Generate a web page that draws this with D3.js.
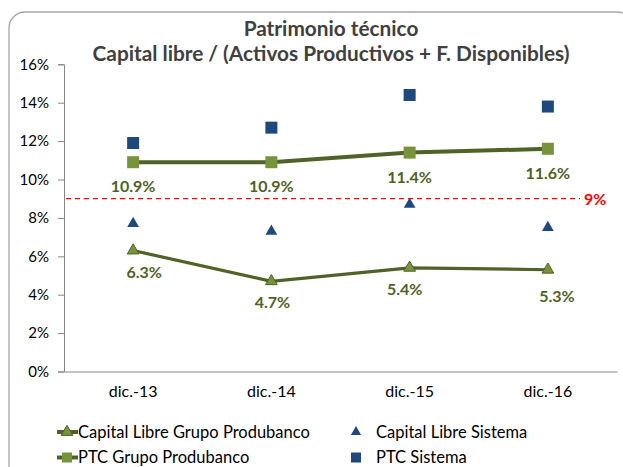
<!DOCTYPE html>
<html><head><meta charset="utf-8">
<script src="https://cdn.jsdelivr.net/npm/d3@7"></script>
<style>
html,body{margin:0;padding:0;background:#fff;}
svg{display:block;font-family:Lato,"Open Sans",sans-serif;}
</style></head>
<body>
<svg id="c" width="623" height="467"></svg>
<script>
const categories = ["dic.-13","dic.-14","dic.-15","dic.-16"];
const capitalLibreGrupo = [0.063, 0.047, 0.054, 0.053];
const capitalLibreSistema = [0.077, 0.073, 0.087, 0.075];
const ptcGrupo = [0.109, 0.109, 0.114, 0.116];
const ptcSistema = [0.119, 0.127, 0.144, 0.138];
const threshold = 0.09;
const thresholdLabel = "9%";
const yTicks = [0,0.02,0.04,0.06,0.08,0.10,0.12,0.14,0.16];
const titleLines = ["Patrimonio técnico","Capital libre / (Activos Productivos + F. Disponibles)"];
const legendLabels = ["Capital Libre Grupo Produbanco","Capital Libre Sistema","PTC Grupo Produbanco","PTC Sistema"];

const svg = d3.select("#c");
const L = 64, R = 617, T = 64.3, B = 371.5;
const olive = "#4f6228", lightOlive = "#77933c", blue = "#1f497d", axisCol = "#868686";

// border
svg.append("rect").attr("x",9).attr("y",12).attr("width",614+10).attr("height",470)
  .attr("rx",16).attr("fill","none").attr("stroke","#a6a6a6").attr("stroke-width",1.3);

const x = d3.scaleBand().domain(categories).range([L,R]);
const y = d3.scaleLinear().domain([0,0.16]).range([B,T]);
const cx = d => x(d) + x.bandwidth()/2;

// title
svg.append("g").selectAll("text").data(titleLines).join("text")
  .attr("x",331).attr("y",(d,i)=>36+i*25).attr("text-anchor","middle")
  .attr("font-weight","bold").attr("font-size",20.8).attr("fill","#404040").text(d=>d);

// y axis
const yAxis = svg.append("g").attr("transform",`translate(${L},0)`)
  .call(d3.axisLeft(y).tickValues(yTicks).tickFormat(d3.format(".0%")).tickSize(6).tickPadding(9));
yAxis.select(".domain").attr("stroke",axisCol);
yAxis.selectAll(".tick line").attr("stroke",axisCol);
yAxis.selectAll("text").attr("font-size",15).attr("fill","#000").attr("font-family","Lato,sans-serif");

// x axis
const xAxis = svg.append("g").attr("transform",`translate(0,${B})`)
  .call(d3.axisBottom(x).tickSize(0).tickPadding(14));
xAxis.select(".domain").attr("stroke",axisCol);
xAxis.selectAll("text").attr("font-size",16).attr("fill","#000").attr("font-family","Lato,sans-serif");

// threshold
svg.append("line").attr("x1",66).attr("x2",580).attr("y1",y(threshold)).attr("y2",y(threshold))
  .attr("stroke","#ff0000").attr("stroke-width",1.2).attr("stroke-dasharray","5,4");
svg.append("text").attr("x",584).attr("y",y(threshold)+6).attr("font-weight","bold")
  .attr("font-size",16).attr("fill","#ff0000").text(thresholdLabel);

const line = d3.line().x((d,i)=>cx(categories[i])).y(d=>y(d));
svg.append("path").datum(ptcGrupo).attr("d",line).attr("fill","none").attr("stroke",olive).attr("stroke-width",4);
svg.append("path").datum(capitalLibreGrupo).attr("d",line).attr("fill","none").attr("stroke",olive).attr("stroke-width",3.2);

const sq = 12, tri = d3.symbol().type(d3.symbolTriangle).size(60);
function squares(data, fill){
  svg.append("g").selectAll("rect").data(data).join("rect")
    .attr("x",(d,i)=>cx(categories[i])-sq/2).attr("y",d=>y(d)-sq/2)
    .attr("width",sq).attr("height",sq).attr("fill",fill);
}
function triangles(data, fill, stroke){
  svg.append("g").selectAll("path").data(data).join("path")
    .attr("d",tri).attr("transform",(d,i)=>`translate(${cx(categories[i])},${y(d)})`)
    .attr("fill",fill).attr("stroke",stroke||"none").attr("stroke-width",1);
}
squares(ptcSistema, blue);
squares(ptcGrupo, lightOlive);
triangles(capitalLibreSistema, blue);
triangles(capitalLibreGrupo, lightOlive, olive);

const fmt = d3.format(".1%");
const ptcOff = [[0,24],[0,24],[0,24],[0,24]];
const clOff = [[11,21],[1,21],[-5,21],[9,26]];
function labels(data, off){
  svg.append("g").selectAll("text").data(data).join("text")
    .attr("x",(d,i)=>cx(categories[i])+off[i][0]).attr("y",(d,i)=>y(d)+off[i][1]+6)
    .attr("text-anchor","middle").attr("font-weight","bold").attr("font-size",16)
    .attr("fill",olive).text(d=>fmt(d));
}
labels(ptcGrupo, ptcOff);
labels(capitalLibreGrupo, clOff);

// legend
const lg = svg.append("g").attr("font-size",16.5).attr("fill","#000");
const rows = [432, 457.5];
function legLine(yy, marker){
  lg.append("line").attr("x1",57).attr("x2",78).attr("y1",yy).attr("y2",yy).attr("stroke",olive).attr("stroke-width",4);
  if(marker==="tri") lg.append("path").attr("d",tri).attr("transform",`translate(67,${yy})`).attr("fill",lightOlive).attr("stroke",olive);
  else lg.append("rect").attr("x",62).attr("y",yy-5).attr("width",10).attr("height",10).attr("fill",lightOlive);
}
legLine(rows[0],"tri");
legLine(rows[1],"sq");
lg.append("path").attr("d",d3.symbol().type(d3.symbolTriangle).size(45)).attr("transform",`translate(356,${rows[0]})`).attr("fill",blue);
lg.append("rect").attr("x",351).attr("y",rows[1]-5).attr("width",10).attr("height",10).attr("fill",blue);
[[78,rows[0]],[376,rows[0]],[78,rows[1]],[376,rows[1]]].forEach((p,i)=>{
  lg.append("text").attr("x",p[0]).attr("y",p[1]+5.5).text(legendLabels[i]);
});
</script>
</body></html>
